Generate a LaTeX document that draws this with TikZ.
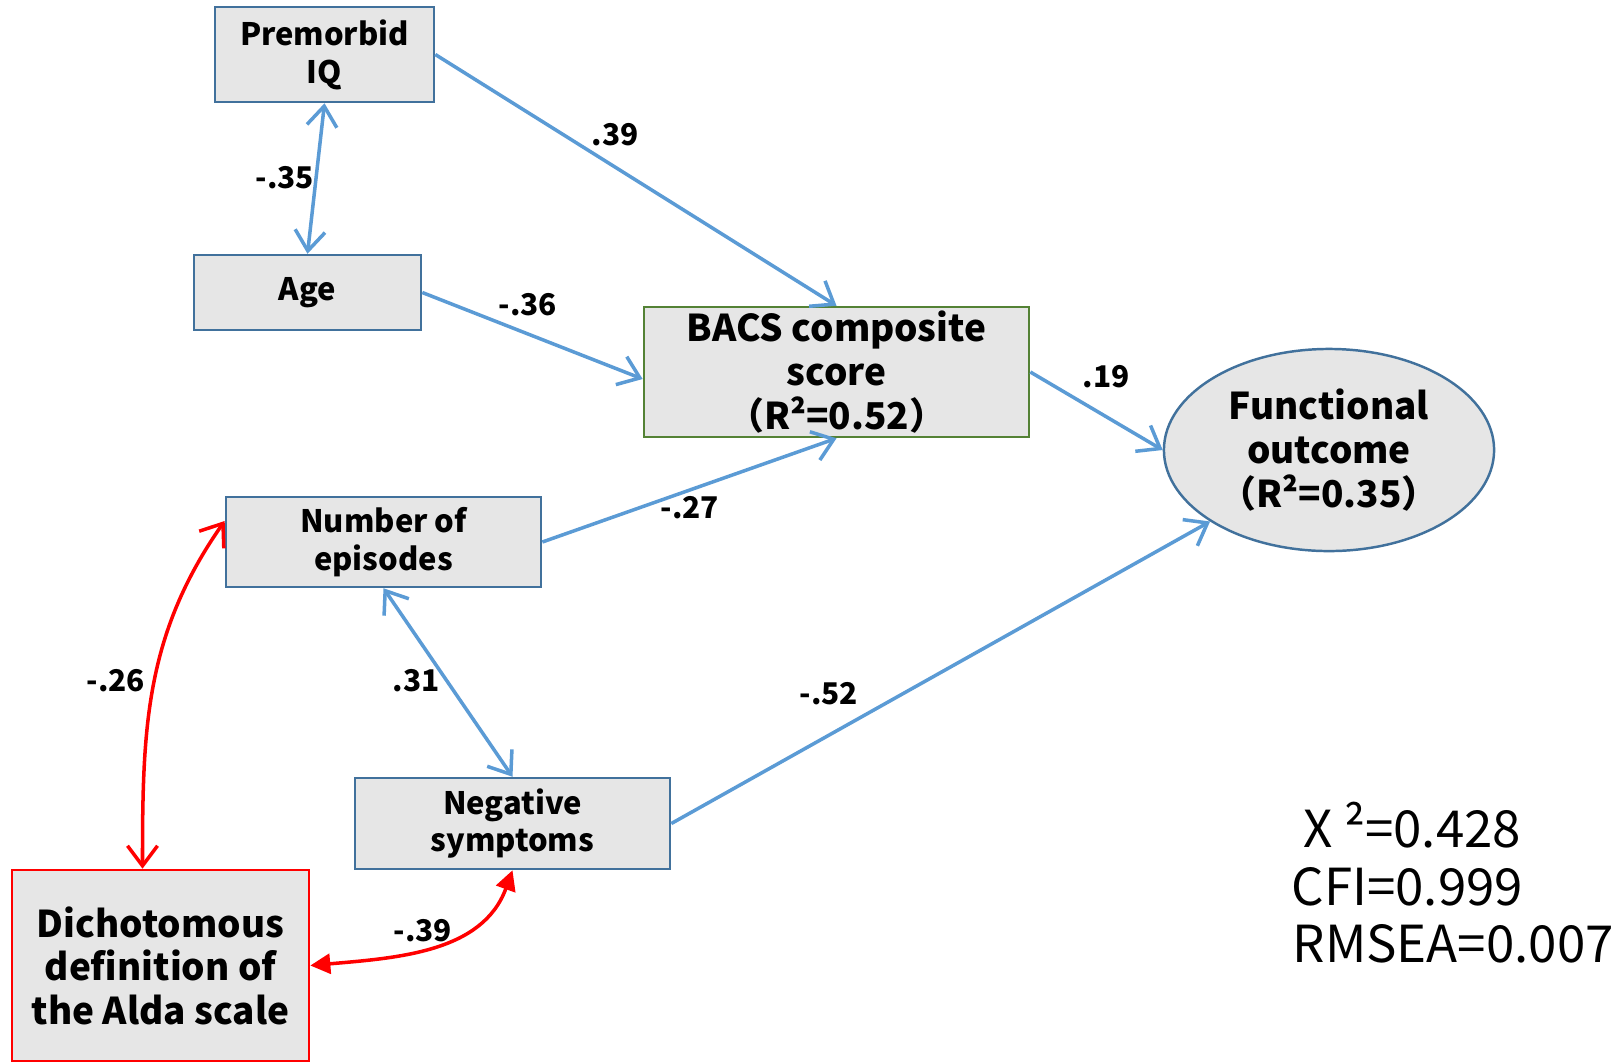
\documentclass[tikz,border=0pt]{standalone}
\usepackage{fontspec}
\setmainfont{Noto Sans CJK JP}
\usetikzlibrary{arrows.meta,shapes.geometric}

\definecolor{lineblue}{HTML}{5B9BD5}
\definecolor{boxblue}{HTML}{41719C}
\definecolor{boxgreen}{HTML}{548235}
\definecolor{boxfill}{HTML}{E6E6E6}

\begin{document}
\begin{tikzpicture}[x=0.01cm,y=-0.01cm]
    \tikzset{
      box/.style={draw=boxblue,line width=0.7pt,fill=boxfill,align=center,inner sep=0pt,
        font=\bfseries\fontsize{8.8}{10.8}\selectfont},
      bigbox/.style={box,font=\bfseries\fontsize{10.5}{12.4}\selectfont},
      barb/.tip={Straight Barb[length=2mm,width=3mm]},
      link/.style={lineblue,line width=1pt,-barb},
      covar/.style={lineblue,line width=1pt,barb-barb},
      redcov/.style={red,line width=1pt},
      coef/.style={font=\bfseries\fontsize{8.5}{10}\selectfont},
      fitstat/.style={anchor=base west,inner sep=0pt,font=\fontsize{14.5}{17}\selectfont}
    }
    \useasboundingbox (0,0) rectangle (1619,1063);

        %BOXES
        \node[box,minimum width=2.19cm,minimum height=0.95cm] (iq) at (324.5,54.5) {Premorbid\\IQ};
        \node[box,minimum width=2.27cm,minimum height=0.75cm] (age) at (307.5,292.5) {Age};
        \node[bigbox,draw=boxgreen,minimum width=3.85cm,minimum height=1.30cm] (bacs) at (836.5,372) {BACS composite\\score\\（R²=0.52）};
        \node[bigbox,ellipse,minimum width=3.30cm,minimum height=2.02cm] (func) at (1329,450) {Functional\\outcome\\（R²=0.35）};
        \node[box,minimum width=3.15cm,minimum height=0.90cm] (epi) at (383.5,542) {Number of\\episodes};
        \node[box,minimum width=3.15cm,minimum height=0.91cm] (neg) at (512.5,823.5) {Negative\\symptoms};
        \node[bigbox,draw=red,minimum width=2.97cm,minimum height=1.91cm] (alda) at (160.5,965.5) {Dichotomous\\definition of\\the Alda scale};

        %PATHS
        \draw[link] (iq.east) -- (bacs.north);
        \draw[covar] (iq.south) -- (age.north);
        \draw[link] (age.east) -- ([yshift=-0.07cm]bacs.west);
        \draw[link] (epi.east) -- (bacs.south);
        \draw[link] (bacs.east) -- (func.west);
        \draw[link] (neg.east) -- (func.211);
        \draw[covar] (epi.south) -- (neg.north);

        \draw[redcov,barb-barb] ([yshift=0.21cm]epi.west) to[out=235,in=90] ([xshift=-0.18cm]alda.north);
        \draw[redcov,{Triangle[length=2mm,width=2mm]}-{Triangle[length=2mm,width=2mm]}] (alda.east) to[out=5,in=-110] (neg.south);

        %COEFFICIENTS
        \node[coef] (c39) at (615,135) {.39};
        \node[coef] (c35) at (285,178) {-.35};
        \node[coef] (c36) at (528,305) {-.36};
        \node[coef] (c19) at (1106,377) {.19};
        \node[coef] (c27) at (690,508) {-.27};
        \node[coef] (c26) at (116,681) {-.26};
        \node[coef] (c31) at (416,681) {.31};
        \node[coef] (c52) at (829,694) {-.52};
        \node[coef] (c39b) at (423,931) {-.39};

        %FIT
        \node[fitstat] (chi) at (1303,847) {X ²=0.428};
        \node[fitstat] (cfi) at (1291,905) {CFI=0.999};
        \node[fitstat] (rmsea) at (1292,962) {RMSEA=0.007};
    \end{tikzpicture}
\end{document}
